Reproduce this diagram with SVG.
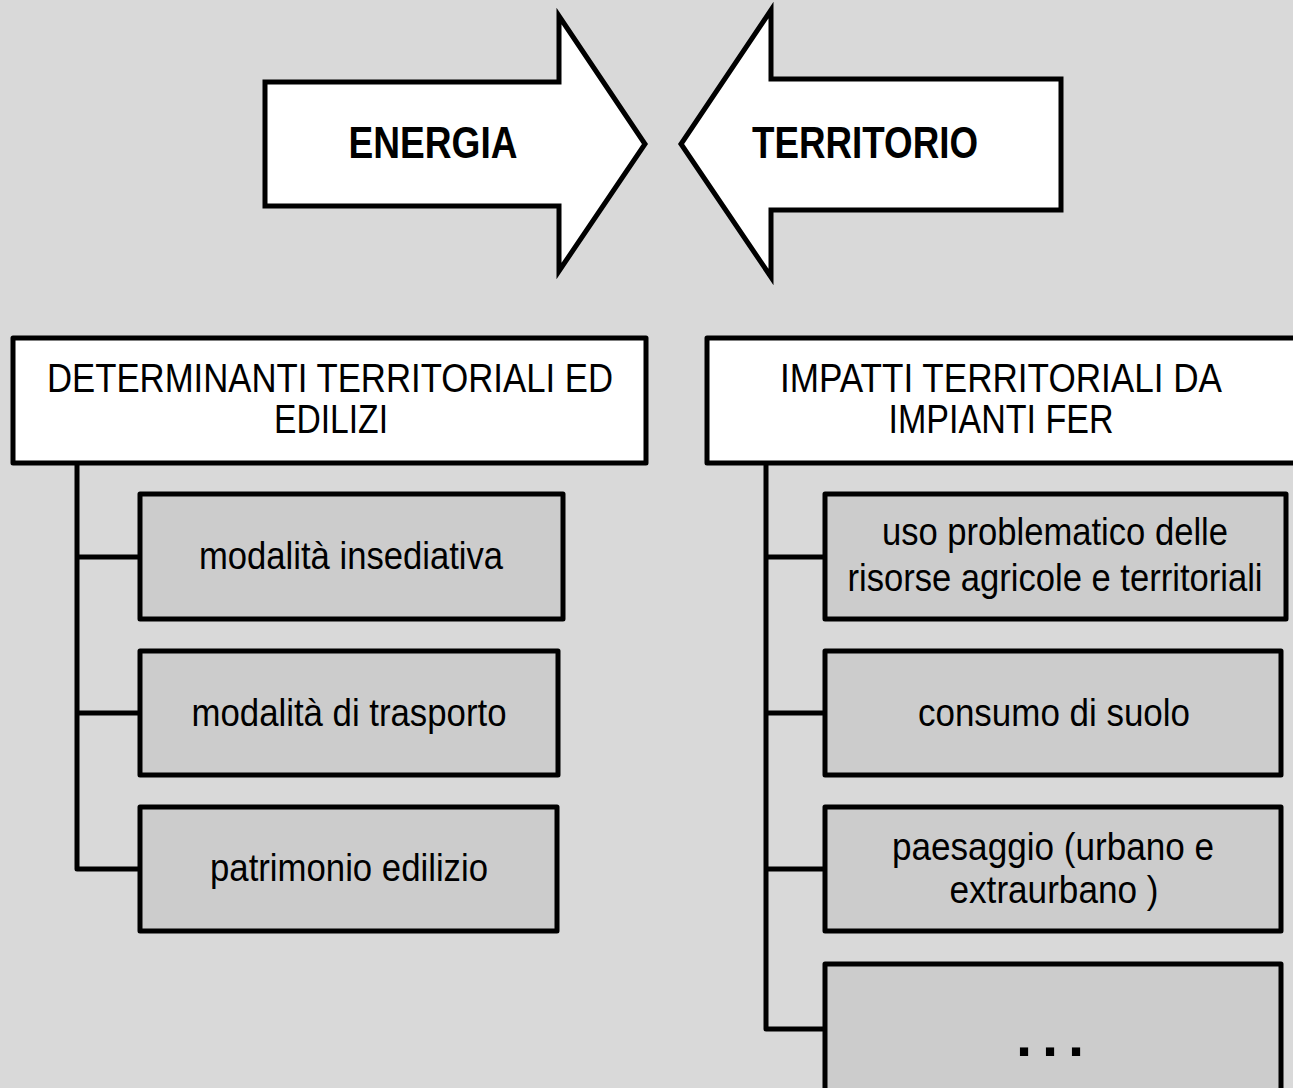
<svg xmlns="http://www.w3.org/2000/svg" width="1293" height="1088" viewBox="0 0 1293 1088">
<style>
.arrow{fill:#ffffff;stroke:#000;stroke-width:5;stroke-linejoin:miter}
.head{fill:#ffffff;stroke:#000;stroke-width:5;stroke-linejoin:round}
.item{fill:#cccccc;stroke:#000;stroke-width:5;stroke-linejoin:round}
.conn{fill:none;stroke:#000;stroke-width:5;stroke-linejoin:round}
.t{font-family:"Liberation Sans Narrow","Liberation Sans",Arial,sans-serif;fill:#000;text-anchor:middle}
.big{font-size:44px;font-weight:bold}
.hd{font-size:41px}
.it{font-size:38px}
</style>
<rect width="1293" height="1088" fill="#d9d9d9"/>
<g id="connectors">
<path class="conn" d="M77,463 V869 H140 M77,557 H140 M77,713 H140"/>
<path class="conn" d="M766,463 V1029 H825 M766,557 H825 M766,713 H825 M766,869 H825"/>
</g>
<g id="energia">
<path class="arrow" d="M265,82 H559 V16 L645,144 L559,271 V206 H265 Z"/>
<text class="t big" x="433" y="158" textLength="169" lengthAdjust="spacingAndGlyphs">ENERGIA</text>
</g>
<g id="territorio">
<path class="arrow" d="M1061,79 H771 V10 L681,144 L771,277 V210 H1061 Z"/>
<text class="t big" x="865" y="158" textLength="226" lengthAdjust="spacingAndGlyphs">TERRITORIO</text>
</g>
<g id="determinanti">
<rect class="head" x="13" y="338" width="633" height="125"/>
<text class="t hd" x="330" y="392" textLength="566" lengthAdjust="spacingAndGlyphs">DETERMINANTI TERRITORIALI ED</text>
<text class="t hd" x="331" y="433" textLength="114" lengthAdjust="spacingAndGlyphs">EDILIZI</text>
</g>
<g id="impatti">
<rect class="head" x="707" y="338" width="590" height="125"/>
<text class="t hd" x="1001" y="392" textLength="442" lengthAdjust="spacingAndGlyphs">IMPATTI TERRITORIALI DA</text>
<text class="t hd" x="1001" y="433" textLength="225" lengthAdjust="spacingAndGlyphs">IMPIANTI FER</text>
</g>
<g id="insediativa">
<rect class="item" x="140" y="494" width="423" height="125"/>
<text class="t it" x="351" y="569" textLength="304" lengthAdjust="spacingAndGlyphs">modalità insediativa</text>
</g>
<g id="trasporto">
<rect class="item" x="140" y="651" width="418" height="124"/>
<text class="t it" x="349" y="726" textLength="315" lengthAdjust="spacingAndGlyphs">modalità di trasporto</text>
</g>
<g id="patrimonio">
<rect class="item" x="140" y="807" width="417" height="124"/>
<text class="t it" x="349" y="881" textLength="278" lengthAdjust="spacingAndGlyphs">patrimonio edilizio</text>
</g>
<g id="uso">
<rect class="item" x="825" y="494" width="461" height="125"/>
<text class="t it" x="1055" y="545" textLength="346" lengthAdjust="spacingAndGlyphs">uso problematico delle</text>
<text class="t it" x="1055" y="591" textLength="415" lengthAdjust="spacingAndGlyphs">risorse agricole e territoriali</text>
</g>
<g id="consumo">
<rect class="item" x="825" y="651" width="456" height="124"/>
<text class="t it" x="1054" y="726" textLength="272" lengthAdjust="spacingAndGlyphs">consumo di suolo</text>
</g>
<g id="paesaggio">
<rect class="item" x="825" y="807" width="456" height="124"/>
<text class="t it" x="1053" y="860" textLength="322" lengthAdjust="spacingAndGlyphs">paesaggio (urbano e</text>
<text class="t it" x="1054" y="903" textLength="209" lengthAdjust="spacingAndGlyphs">extraurbano )</text>
</g>
<g id="altro">
<rect class="item" x="825" y="964" width="456" height="132"/>
<text font-family="Liberation Sans,Arial,sans-serif" font-size="58" font-weight="bold" x="1016 1042 1068" y="1056">...</text>
</g>
</svg>
